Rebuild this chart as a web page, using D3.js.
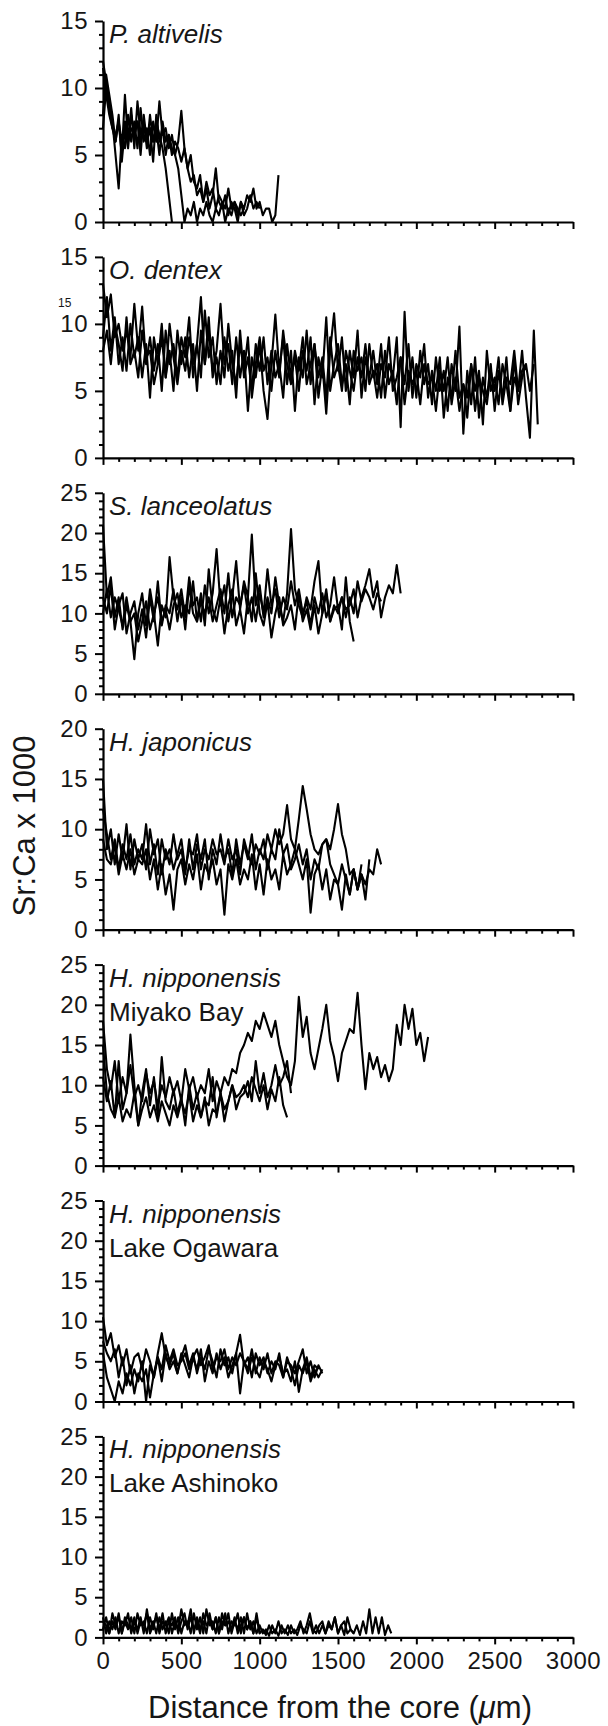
<!DOCTYPE html>
<html>
<head>
<meta charset="utf-8">
<script src="https://cdn.jsdelivr.net/npm/d3@7"></script>
<style>
  body { margin: 0; background: #fff; }
  svg text { font-family: "Liberation Sans", Arial, sans-serif; fill: #161616; }
</style>
<title>Sr:Ca profiles</title>
</head>
<body>
<svg id="chart" width="608" height="1726"></svg>
<script>

// P. altivelis (step 20)
const pa1 = [11.5, 9.5, 8, 7, 6.5, 7.5, 6, 7.5, 6, 7, 6.5, 7.5, 6, 7, 6.5, 7, 6, 7.5, 6.5, 5.5, 4, 2, 0];
const pa2 = [12, 10.5, 9, 7.5, 5, 2.5, 6.5, 5.5, 8, 6, 7.5, 5.5, 8.5, 6, 7, 5, 7.5, 6, 9, 6.5, 7, 5.5, 6.5, 5, 6,
  8.3, 5.5, 4, 5, 3, 2.5, 3.5, 1.5, 2.5, 1, 2, 4, 1.5, 1, 2, 0.5, 1.5, 1, 0, 1.5, 0.5, 1, 2, 1, 1.5, 1];
const pa3 = [8, 11, 9.5, 8, 6, 7.5, 5, 9.5, 6, 8.5, 5.5, 9, 6.5, 7.5, 5.5, 8, 6, 7, 5, 7.5, 6, 6.5, 5, 6, 5.5,
  4.5, 5.5, 4, 3, 3.5, 2, 2.5, 1.5, 3, 2, 2.5, 1, 2, 1.5, 1, 2.5, 1, 1.5, 0.5, 1.5, 1, 2, 1.5, 2.5, 1,
  1.5, 0.5, 1, 1, 0, 0.5, 3.5];
const pa4 = [7, 10, 8.5, 7, 6, 8, 4.5, 7, 5.5, 8, 6.5, 7.5, 5, 8, 6, 7, 4.5, 8, 6, 7, 5, 6.5, 5.5, 5, 4,
  2, 0, 1, 0.5, 1.5, 0, 1, 0.5, 1.5, 0.5, 0, 1, 0.5, 1.5, 0, 1, 0.5, 1.5, 1, 0.5, 1];

// O. dentex (step 25)
const od1 = [13, 10.5, 12.2, 9, 10, 8, 9.5, 7.5, 11.5, 8, 11.3, 7, 9, 6.5, 8.5, 5, 9.5, 7, 8.5, 6,
  9, 7.5, 10.5, 6, 8.5, 12, 7, 9.5, 6.5, 8, 11.5, 7, 8.5, 5.5, 9, 6, 8, 3.5, 7.5, 6,
  8.5, 5, 2.9, 7, 10.7, 6.5, 9, 5.5, 8, 3.5, 7.5, 6, 9.5, 5.5, 8.5, 4.5, 7, 3.3, 8, 10.8,
  6.5, 9, 5, 8, 6, 9.5, 4.5, 7.5, 6, 8, 5.5, 8.5, 4.5, 7, 6, 9, 2.3, 10.9, 5, 7.5,
  4.5, 8, 5.5, 7, 4, 7.5, 5, 6.5, 3.5, 7, 5, 9.8, 1.8, 6.5, 4, 7.5, 3, 6, 4.5, 7,
  3.5, 6.5, 4.5, 7.5, 3.5, 6, 5, 8, 4.5, 1.5, 9.5, 2.5];
const od2 = [9, 12, 8, 10.5, 7, 9, 6.5, 10, 7.5, 9, 6, 8.5, 4.5, 9, 7, 10, 6, 8, 5, 9.5,
  7, 9, 6, 8.5, 5, 9.5, 7, 10.5, 6, 7.5, 5.5, 9, 6.5, 8, 4.5, 9.5, 6, 7.5, 5, 8.5,
  6.5, 9, 5.5, 8, 6, 7, 4.5, 8.5, 6, 7.5, 5, 8, 6.5, 9, 4, 7.5, 6, 10.5, 5, 7,
  8.5, 5.5, 7, 4, 8, 6.5, 7.5, 5, 8.5, 6, 7, 4.5, 8, 5.5, 6.5, 4, 7.5, 5.5, 8.5, 4.5,
  7, 6, 8.5, 4.5, 6.5, 5, 7.5, 3, 6, 4.5, 8, 4.5, 5.5, 3, 7, 5, 6.5, 2.5, 8, 5,
  6, 4, 7, 5.5, 3.5, 7.5, 4, 6, 7, 5, 7];
const od3 = [8, 9.5, 7, 10, 8.5, 6.5, 10.5, 7, 8, 6, 9.5, 7.5, 8, 5.5, 7, 9, 6, 10, 7.5, 5.5,
  8, 6.5, 9, 7, 8.5, 6, 11, 7.5, 9, 5.5, 8, 6, 10, 7, 5.5, 8.5, 6.5, 9, 4.5, 7,
  9, 6.5, 7.5, 5, 8, 6, 9.5, 7, 5.5, 8, 6.5, 9, 5.5, 7, 8.5, 6, 7.5, 4.5, 9, 6,
  7, 5, 8, 6.5, 5, 7.5, 6, 8.5, 5.5, 6.5, 4.5, 7, 6, 9, 5, 6, 7.5, 4, 6.5, 5.5,
  6.5, 4, 7, 5.5, 6, 3.5, 6.5, 5, 7.5, 4, 6, 3.5, 5.5, 4.5, 7, 3.5, 6, 5, 4, 6.5,
  5, 7.5, 4, 6, 5.5, 8, 5, 6.5, 7];

// S. lanceolatus (step 25)
const sl1 = [21, 12, 14.5, 9.5, 12, 8, 11, 9, 4.3, 10, 12.5, 8.5, 13, 10, 6, 11, 9.5, 17, 12, 10.5,
  13, 9.5, 14.5, 11, 12, 9, 13.5, 10, 12.5, 18, 11, 13.5, 9, 12, 16.5, 10.5, 14, 12, 19.8, 11,
  13.5, 9.5, 12, 10, 14.5, 11, 9, 12.5, 20.5, 13, 11, 9.5, 12, 10.5, 14, 16.5, 10, 12.5, 9, 11,
  10, 12, 10.5, 11, 13, 9.5, 12, 13.5, 15.5, 12, 14, 9.5, 12, 13.5, 12.5, 16, 12.5];
const sl2 = [12, 10, 13.5, 8, 11, 12.5, 7.5, 10, 11.5, 8, 10.5, 7, 12, 9, 14, 8.5, 11, 10, 13, 9,
  12, 8, 13.5, 10, 9, 12.5, 8.5, 15.5, 10.5, 9, 12, 7.5, 11, 13, 8.5, 10.5, 7.5, 12, 9, 15,
  10, 8.5, 11.5, 7, 10, 12, 8.5, 9.5, 11, 8, 12.5, 9, 10.5, 8, 11, 7.5, 10, 13, 9, 10.5,
  11, 8, 14.5, 9, 6.5];
const sl3 = [10, 13, 9.5, 12, 10.5, 8.5, 12, 9, 10, 6.5, 9, 11.5, 8, 10, 12, 9, 10.5, 8, 11, 12.5,
  9.5, 11, 10, 14, 9, 11.5, 10, 12, 9, 11, 13, 10, 15, 9.5, 12, 11, 13.5, 10, 12, 9,
  12.5, 10, 15.5, 11, 13, 9.5, 12, 10.5, 14, 11, 13, 10, 11.5, 8.5, 12, 10, 12.5, 9.5, 11, 14.5,
  10.5, 12, 9.5, 12, 10, 14, 11.5, 13, 12, 10.5, 12.5, 11.5];

// H. japonicus (step 25)
const hj1 = [15, 8, 10, 6.5, 9.5, 7, 10.5, 6, 9, 7, 8.5, 6, 10, 7.5, 9, 5.5, 8, 6.5, 9.5, 7,
  8, 5.5, 9, 6, 8.5, 7, 9, 5, 8, 6.5, 9.5, 7, 8, 5.5, 9, 6.5, 8.5, 7, 9.5, 6,
  8, 7, 9.5, 8, 10, 8.5, 9.5, 12.4, 9, 8, 11, 14.3, 12, 9.5, 8, 7.5, 8.5, 9, 8, 10,
  12.5, 9.5, 8, 5.5, 6, 4, 5.5, 4.5, 6, 5.5, 8, 6.5];
const hj2 = [9, 7, 6.5, 8.5, 5.5, 7.5, 6, 8, 5.5, 7, 6.5, 8, 5, 7, 4, 6.5, 3.5, 5.5, 2, 6,
  7, 4.5, 6.5, 5, 7.5, 4, 6.5, 5.5, 7, 4.5, 6, 1.5, 6.5, 5, 7, 4.5, 6, 5, 7.5, 4,
  6.5, 3.5, 7, 5, 6, 4, 7.5, 5.5, 6.5, 8, 6.5, 5, 7, 1.7, 5.5, 6.5, 4, 6, 3, 5,
  4.5, 2, 5.5, 3.5, 6, 4, 5.5, 3, 7];
const hj3 = [12, 9.5, 7, 9, 6, 8.5, 7, 9.5, 6.5, 8, 7, 10.5, 6.5, 8.5, 5.5, 9, 7, 8, 6, 7.5,
  9, 6, 8, 7.5, 9.5, 6, 8, 7, 9, 7.5, 8, 6.5, 9, 7, 8, 5.5, 9, 7.5, 6.5, 8.5,
  7.5, 9, 6, 8, 7, 10, 7.5, 8.5, 6, 7, 8.5, 6.5, 8, 5, 7, 6, 8.5, 9, 6.5, 5.5,
  4.5, 6.5, 5, 3.5, 6, 4, 6.5];

// H. nipponensis, Miyako Bay (step 25)
const mb1 = [18, 12, 9.5, 13, 8, 11, 9, 12.5, 8.5, 10, 8, 11.5, 9, 10.5, 7.5, 10, 8.5, 11, 9, 10.5,
  8, 12, 9.5, 11, 8.5, 10, 9, 12, 8, 10.5, 9, 11, 10, 12, 11.5, 14, 15, 16.5, 15.5, 18,
  17, 19, 17.5, 16, 18, 15, 13, 11, 10, 13, 21, 16, 18.5, 14, 12, 14.5, 17, 20, 15.5, 13.5,
  10.5, 14, 15.5, 17, 16.5, 21.5, 15, 9.5, 14, 12, 13.5, 11, 12.5, 10.5, 12, 17.5, 15, 20, 17, 19.5,
  15, 16.5, 13, 16];
const mb2 = [11, 8, 10.5, 6, 13, 7, 9, 16.3, 10, 5, 9, 12, 7.5, 11, 6, 13.5, 8, 7, 9.5, 6.5,
  8.5, 5, 10, 7, 9, 6, 8, 7.5, 11, 6, 9, 5.5, 8, 10, 7, 8.5, 9, 10.5, 8, 13,
  9, 11.5, 8.5, 10, 12.5, 10, 11, 13, 9];
const mb3 = [15, 9, 7, 6, 8.5, 5.5, 7, 6, 9, 5, 7, 8.5, 6, 7.5, 5.5, 8, 6.5, 5, 7.5, 6,
  8, 6.5, 9, 5.5, 7.5, 6, 8.5, 5, 7, 6.5, 9, 7, 8, 10, 8.5, 9, 10, 8.5, 11, 9.5,
  8, 10, 7, 9.5, 8, 11, 7.5, 6];

// H. nipponensis, Lake Ogawara (step 25)
const lo1 = [10.5, 7, 8.5, 5.5, 7, 4.5, 6.5, 3.5, 5.5, 6, 4, 6.5, 5, 3, 6, 8.5, 5.5, 4.5, 6, 3.5,
  5.5, 7, 4.5, 6, 3.5, 5.5, 4, 6.5, 5, 3, 6.5, 4.5, 5.5, 3.5, 6, 8.3, 4.5, 5.5, 3, 6,
  4.5, 5.5, 3.5, 5, 4, 6, 3, 5, 4.5, 3.5, 5, 6.5, 3.5, 5, 3, 4.5, 3.5];
const lo2 = [6, 3, 1.5, 0, 2.5, 1, 3.5, 2, 4, 2.5, 5, 0, 4.5, 3, 5.5, 2.5, 6, 4, 5, 3.5,
  6, 4.5, 3, 5.5, 4, 6.5, 2.5, 5, 3.5, 6, 4, 5.5, 3, 4.5, 6, 1, 5, 3.5, 5.5, 4,
  3, 5, 4, 2.5, 4.5, 5.5, 3.5, 4, 2.5, 5, 1.2, 4, 5.5, 3, 4.5, 4];
const lo3 = [7.5, 6, 5, 6.5, 3, 5.5, 2, 4.5, 1, 3.5, 2.5, 4, 0.5, 3.5, 5.5, 4, 7, 5, 6.5, 4.5,
  5, 6, 4, 5.5, 6.5, 4.5, 5.5, 7, 4, 5.5, 5, 6.5, 4, 5.5, 4.5, 6, 5, 4, 6.5, 3.5,
  5.5, 4, 6, 3.5, 5, 4.5, 3, 5.5, 4, 2, 4.5, 3.5, 5, 2.5, 4, 3, 4];

// H. nipponensis, Lake Ashinoko (step 20)
const la1 = [2.5, 0.5, 2, 1, 2.5, 0.5, 2, 1.5, 3, 0.5, 2, 1, 2.5, 0.5, 3.5, 1, 2, 0.5, 2.5, 1,
  2, 0.5, 3, 1, 2.5, 0.5, 2, 1.5, 3.5, 0.5, 2.5, 1, 2, 0.5, 3, 1, 2.5, 0.5, 2, 1.5,
  3, 0.5, 2, 1, 2.5, 0.5, 3, 1, 2, 0.5, 1.5, 0.5, 1, 0.2, 1.5, 0.5, 2, 0.5, 1, 0.3,
  1.5, 0.5, 1, 2, 0.5, 1.5, 3, 1, 0.5, 1.5, 2, 0.5, 1.5, 1, 2.5, 0.5, 1.5, 0.3, 2.5, 1,
  0.5, 1.5, 0.3, 2, 0.5, 3.5, 0.5, 2.5, 0.5, 2.5, 0.3, 1.5, 0.5];
const la2 = [1, 2.5, 0.5, 3, 1.5, 2.5, 0.5, 2, 1, 2.5, 0.5, 3, 1.5, 2, 0.5, 2.5, 1, 3, 0.5, 2,
  1.5, 2.5, 0.5, 2, 1, 3.5, 1.5, 2, 0.5, 3, 1, 2.5, 0.5, 3.5, 1.5, 2, 0.5, 2.5, 1, 3,
  0.5, 2, 1.5, 3, 0.5, 2.5, 1, 2, 0.5, 3, 0.5];
const la3 = [2, 1.5, 0.5, 2, 1, 3, 0.5, 2.5, 1.5, 1, 2.5, 0.5, 2, 1.5, 3, 0.5, 1.5, 2.5, 1, 3,
  0.5, 2, 1.5, 2.5, 0.5, 2, 3, 1, 2.5, 1, 2, 0.5, 3, 1.5, 2, 1, 2.5, 0.5, 3, 1.5,
  2, 1, 2.5, 0.5, 1.5, 2.5, 1, 2, 0.5, 2.5, 0.5, 1, 0.3, 1.5, 0.5, 1, 0.2, 1.5, 0.5, 1.5,
  0.5, 1, 0.3, 1.5, 1, 0.5, 2, 0.5, 1.5, 0.5, 1.5, 0.5, 2, 1, 2.5, 0.5, 1.5, 2, 0.5, 1,
  0.5];

const speciesNames = ["P. altivelis", "O. dentex", "S. lanceolatus", "H. japonicus",
  "H. nipponensis", "H. nipponensis", "H. nipponensis"];
const siteNames = [null, null, null, null, "Miyako Bay", "Lake Ogawara", "Lake Ashinoko"];
const yMaxes = [15, 15, 25, 20, 25, 25, 25];
const xTickLabels = [0, 500, 1000, 1500, 2000, 2500, 3000];

const panels = [
  [{ step: 20, v: pa1 }, { step: 20, v: pa2 }, { step: 20, v: pa3 }, { step: 20, v: pa4 }],
  [{ step: 25, v: od1 }, { step: 25, v: od2 }, { step: 25, v: od3 }],
  [{ step: 25, v: sl1 }, { step: 25, v: sl2 }, { step: 25, v: sl3 }],
  [{ step: 25, v: hj1 }, { step: 25, v: hj2 }, { step: 25, v: hj3 }],
  [{ step: 25, v: mb1 }, { step: 25, v: mb2 }, { step: 25, v: mb3 }],
  [{ step: 25, v: lo1 }, { step: 25, v: lo2 }, { step: 25, v: lo3 }],
  [{ step: 20, v: la1 }, { step: 20, v: la2 }, { step: 20, v: la3 }]
];

var svg = d3.select("#chart");
var left = 103, right = 573;
var firstBottom = 222, gap = 235.9, panelH = 201;

var x = d3.scaleLinear().domain([0, 3000]).range([left, right]);
var xMinor = d3.range(0, 3001, 100).filter(d => d % 500 !== 0);

panels.forEach(function (series, i) {
  var bottom = firstBottom + i * gap;
  var ymax = yMaxes[i];
  var y = d3.scaleLinear().domain([0, ymax]).range([bottom, bottom - panelH]);
  var g = svg.append("g");

  series.forEach(function (s) {
    var line = d3.line()
      .x((d, j) => x(j * s.step))
      .y(d => y(d));
    g.append("path")
      .attr("d", line(s.v))
      .attr("fill", "none")
      .attr("stroke", "#000")
      .attr("stroke-width", 2.1)
      .attr("stroke-linejoin", "round");
  });

  // y axis: minor every 1, major every 5
  var yMinor = d3.range(0, ymax + 1, 1).filter(d => d % 5 !== 0);
  var yMajor = d3.range(0, ymax + 1, 5);
  g.append("g")
    .attr("transform", "translate(" + left + ",0)")
    .call(d3.axisLeft(y).tickValues(yMinor).tickSize(4).tickSizeOuter(0).tickFormat(""))
    .call(a => a.select(".domain").remove());
  g.append("g")
    .attr("transform", "translate(" + left + ",0)")
    .call(d3.axisLeft(y).tickValues(yMajor).tickSize(8).tickSizeOuter(0).tickPadding(7));

  // x axis: minor every 100, major every 500
  g.append("g")
    .attr("transform", "translate(0," + bottom + ")")
    .call(d3.axisBottom(x).tickValues(xMinor).tickSize(4).tickSizeOuter(0).tickFormat(""))
    .call(a => a.select(".domain").remove());
  g.append("g")
    .attr("transform", "translate(0," + bottom + ")")
    .call(d3.axisBottom(x).tickValues(xTickLabels).tickSize(7).tickSizeOuter(0).tickPadding(8)
      .tickFormat(i === panels.length - 1 ? d3.format("d") : ""));

  g.selectAll(".domain").attr("stroke-width", 2.2).attr("stroke", "#000");
  g.selectAll(".tick line").attr("stroke-width", 2).attr("stroke", "#000");
  g.selectAll(".tick text")
    .style("font-size", "24px")
    .style("letter-spacing", "0.5px")
    .attr("fill", "#161616");

  var top = bottom - panelH;
  g.append("text")
    .attr("x", left + 6)
    .attr("y", top + 22)
    .style("font-size", "26px")
    .style("font-style", "italic")
    .text(speciesNames[i]);
  if (siteNames[i]) {
    g.append("text")
      .attr("x", left + 6)
      .attr("y", top + 56)
      .style("font-size", "26px")
      .text(siteNames[i]);
  }
});

// stray small "15" sitting just above the O. dentex "10" label
svg.append("text")
  .attr("x", 58)
  .attr("y", 307)
  .style("font-size", "12px")
  .text("15");

// axis titles
svg.append("text")
  .attr("transform", "translate(35,826) rotate(-90)")
  .attr("text-anchor", "middle")
  .style("font-size", "31px")
  .text("Sr:Ca x 1000");

var xt = svg.append("text")
  .attr("x", 340)
  .attr("y", 1718)
  .attr("text-anchor", "middle")
  .style("font-size", "31px");
xt.append("tspan").text("Distance from the core (");
xt.append("tspan").style("font-style", "italic").text("\u03bc");
xt.append("tspan").text("m)");
</script>
</body>
</html>
